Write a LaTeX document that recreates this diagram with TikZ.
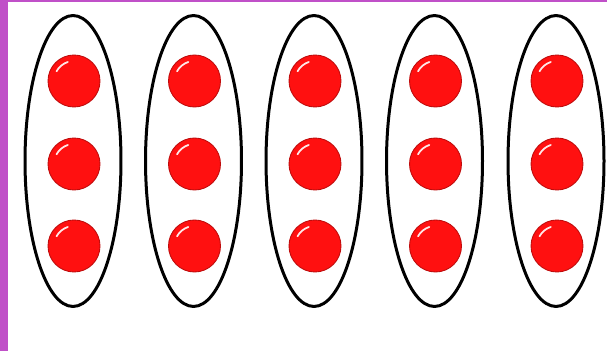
\documentclass[tikz,border=0pt]{standalone}
\usetikzlibrary{shapes.geometric}

\definecolor{framepurple}{RGB}{192,80,200}
\definecolor{ballred}{RGB}{255,16,16}

\begin{document}
\begin{tikzpicture}[
    x=0.02cm, y=0.02cm,
    ring_node/.style={ellipse, draw=black, line width=0.06cm, minimum width=1.92cm, minimum height=5.82cm, inner sep=0pt},
    ball_node/.style={circle, fill=ballred, draw=ballred!75!black, line width=0.5pt, minimum size=1.04cm, inner sep=0pt},
    gloss_line/.style={white, line width=0.035cm, line cap=round, opacity=0.9}
]

    % Rahmen
    \useasboundingbox (0,0) rectangle (607,351);
    \fill[white] (0,0) rectangle (607,351);
    \fill[framepurple] (0,0) rectangle (8,351);
    \fill[framepurple] (0,348.5) rectangle (607,351);

    % Fuenf Gruppen zu je drei Kugeln
    \foreach \i/\x in {1/73, 2/193.5, 3/314, 4/434.5, 5/556} {
        \node[ring_node] (ring\i) at (\x,190) {};
        \foreach \j/\y in {1/270, 2/187, 3/105} {
            \node[ball_node] (ball\i\j) at (\x+1,\y) {};
            % Glanzlicht
            \draw[gloss_line] (ball\i\j.center) ++(151:0.4cm) arc[start angle=151, end angle=108, radius=0.4cm];
        }
    }

\end{tikzpicture}
\end{document}
